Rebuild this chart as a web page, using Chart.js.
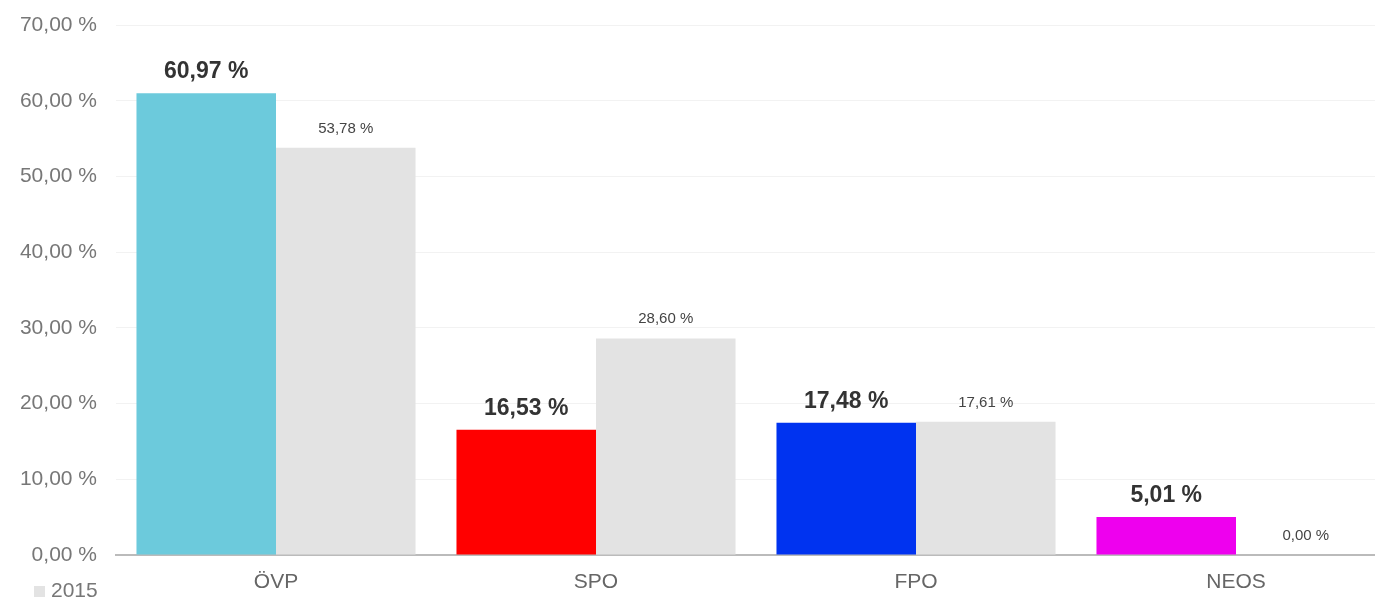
<!DOCTYPE html>
<html>
<head>
<meta charset="utf-8">
<script src="https://cdn.jsdelivr.net/npm/chart.js@4.4.0/dist/chart.umd.min.js"></script>
<style>
  html, body { margin: 0; padding: 0; background: #fff; overflow: hidden; }
  #wrap { position: relative; width: 1400px; height: 599px; }
  #legend { position: absolute; left: 34px; top: 578px; font: 21px "Liberation Sans", Arial, sans-serif; color: #777; }
  #legend span { display: inline-block; width: 11px; height: 11px; background: #e3e3e3; margin-right: 6px; }
</style>
</head>
<body>
<div id="wrap">
  <canvas id="barChart" width="1400" height="599"></canvas>
  <div id="legend"><span></span>2015</div>
</div>
<script>
const parties = ['ÖVP', 'SPO', 'FPO', 'NEOS'];
const result2020 = [60.97, 16.53, 17.48, 5.01];
const result2015 = [53.78, 28.60, 17.61, 0.00];
const partyColors = ['#6ccadc', '#ff0000', '#0033f0', '#ee00ee'];
const yTicks = [0, 10, 20, 30, 40, 50, 60, 70];

const fmt = v => v.toFixed(2).replace('.', ',') + ' %';

// draws the value labels above each bar
const valueLabels = {
  id: 'valueLabels',
  afterDatasetsDraw(chart) {
    const ctx = chart.ctx;
    ctx.save();
    ctx.textAlign = 'center';
    ctx.textBaseline = 'alphabetic';
    chart.data.datasets.forEach((ds, i) => {
      const meta = chart.getDatasetMeta(i);
      meta.data.forEach((bar, j) => {
        if (i === 0) {
          ctx.font = 'bold 23px "Liberation Sans", Arial, sans-serif';
          ctx.fillStyle = '#333';
          ctx.fillText(fmt(ds.data[j]), bar.x, bar.y - 15);
        } else {
          ctx.font = '15px "Liberation Sans", Arial, sans-serif';
          ctx.fillStyle = '#444';
          ctx.fillText(fmt(ds.data[j]), bar.x, bar.y - 15);
        }
      });
    });
    ctx.restore();
  }
};

new Chart(document.getElementById('barChart').getContext('2d'), {
  type: 'bar',
  data: {
    labels: parties,
    datasets: [{
      label: '2020',
      data: result2020,
      backgroundColor: partyColors,
      categoryPercentage: 0.872,
      barPercentage: 1
    }, {
      label: '2015',
      data: result2015,
      backgroundColor: '#e3e3e3',
      categoryPercentage: 0.872,
      barPercentage: 1
    }]
  },
  options: {
    responsive: false,
    animation: false,
    layout: { padding: { top: 25, right: 4, left: 0, bottom: 0 } },
    plugins: {
      legend: { display: false },
      tooltip: { enabled: false }
    },
    scales: {
      x: {
        grid: { display: false, drawTicks: false },
        border: { color: '#bbb', width: 2 },
        ticks: {
          padding: 15,
          color: '#666',
          font: { family: '"Liberation Sans", Arial, sans-serif', size: 21 }
        },
        afterFit(s) { s.height = 44; }
      },
      y: {
        min: 0,
        max: 70,
        afterBuildTicks(s) { s.ticks = yTicks.map(v => ({ value: v })); },
        grid: { color: '#f2f2f2', drawTicks: false },
        border: { display: false },
        ticks: {
          padding: 19,
          color: '#777',
          font: { family: '"Liberation Sans", Arial, sans-serif', size: 21 },
          callback: v => fmt(v)
        },
        afterFit(s) { s.width = 116; s.paddingTop = 0; s.paddingBottom = 0; }
      }
    }
  },
  plugins: [valueLabels]
});
</script>
</body>
</html>
